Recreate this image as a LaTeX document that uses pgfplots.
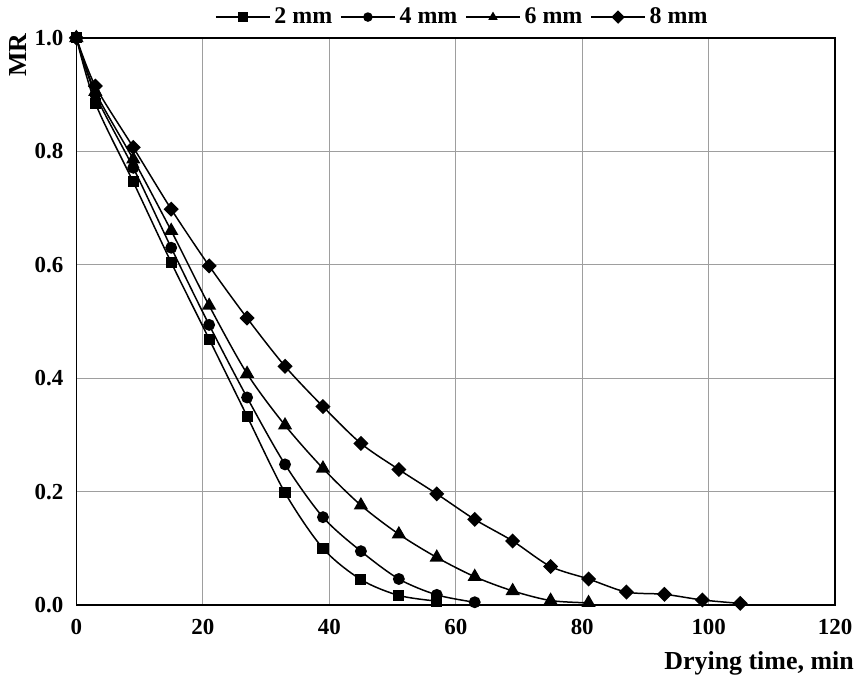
\documentclass[border=0pt]{standalone}
\usepackage{fontspec}
\setmainfont{Liberation Serif}
\usepackage{pgfplots}
\pgfplotsset{compat=1.18}

\begin{document}
\begin{tikzpicture}
\begin{axis}[
  name=ax,
  scale only axis,
  width=380.6pt, height=284.5pt,
  xmin=0, xmax=120, ymin=0, ymax=1,
  xtick={0,20,...,120},
  ytick={0,0.2,0.4,0.6,0.8,1.0},
  yticklabel style={/pgf/number format/fixed, /pgf/number format/precision=1, /pgf/number format/fixed zerofill},
  /pgf/number format/assume math mode=true,
  ticklabel style={font=\fontsize{11.5}{13}\selectfont\bfseries},
  xticklabel style={yshift=-3.5pt},
  yticklabel style={xshift=-3pt},
  major tick length=0pt,
  grid=major,
  grid style={draw=black!38, line width=0.6pt},
  axis line style={line width=0.8pt},
  xlabel={Drying time, min},
  ylabel={MR},
  label style={font=\fontsize{13}{15}\selectfont\bfseries},
  xlabel style={at={(axis description cs:1.025,-0.102)}, anchor=east, inner sep=0pt},
  ylabel style={at={(axis description cs:-0.0763,0.97)}, anchor=center},
  legend columns=4,
  legend style={at={(0.51,1)}, anchor=south, yshift=2.5pt, draw=none, fill=none,
    font=\fontsize{12}{14}\selectfont\bfseries, inner sep=1pt,
    /tikz/every odd column/.append style={column sep=0pt},
    /tikz/every even column/.append style={column sep=2pt}},
  legend image code/.code={
    \draw[#1, mark size=2pt, mark repeat=2, mark phase=2]
      plot coordinates {(0pt,0pt) (13.5pt,0pt) (27pt,0pt)};},
  clip mode=individual,
]
\addplot[black, line width=0.75pt, smooth, tension=0.5, mark=square*, mark size=2.4pt, mark options={solid, fill=black}] coordinates {
  (0,1) (3,0.885) (9,0.746) (15,0.604) (21,0.469) (27,0.333) (33,0.198)
  (39,0.100) (45,0.045) (51,0.017) (57,0.007)
};
\addplot[black, line width=0.75pt, smooth, tension=0.5, mark=*, mark size=2.6pt, mark options={solid, fill=black}] coordinates {
  (0,1) (3,0.900) (9,0.771) (15,0.630) (21,0.494) (27,0.366) (33,0.248)
  (39,0.155) (45,0.095) (51,0.046) (57,0.018) (63,0.005)
};
\addplot[black, line width=0.75pt, smooth, tension=0.5, mark=triangle*, mark size=3.4pt, mark options={solid, fill=black}] coordinates {
  (0,1) (3,0.905) (9,0.786) (15,0.660) (21,0.528) (27,0.408) (33,0.317)
  (39,0.241) (45,0.176) (51,0.125) (57,0.084) (63,0.050) (69,0.025)
  (75,0.008) (81,0.004)
};
\addplot[black, line width=0.75pt, smooth, tension=0.5, mark=square*, mark size=2.3pt, mark options={solid, fill=black, rotate=45}] coordinates {
  (0,1) (3,0.915) (9,0.807) (15,0.698) (21,0.598) (27,0.506) (33,0.421)
  (39,0.350) (45,0.285) (51,0.239) (57,0.196) (63,0.151) (69,0.113)
  (75,0.068) (81,0.046) (87,0.023) (93,0.019) (99,0.009) (105,0.003)
};
\legend{2 mm, 4 mm, 6 mm, 8 mm}
\end{axis}
\path ([xshift=-38.3pt,yshift=-34.5pt]ax.south west) rectangle ([xshift=10.5pt,yshift=19pt]ax.north east);
\end{tikzpicture}
\end{document}
